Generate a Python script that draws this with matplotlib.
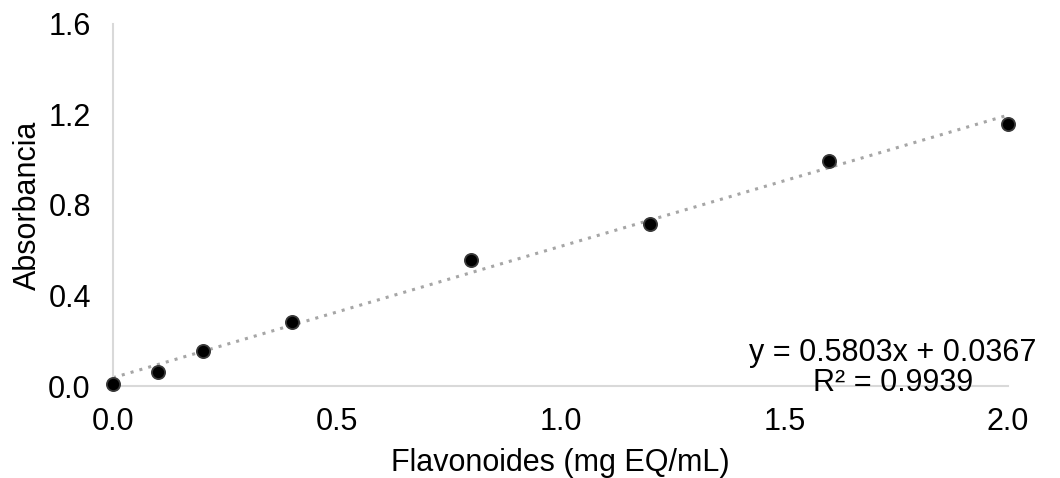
import numpy as np
import matplotlib.pyplot as plt

plt.rcParams['font.family'] = ['Liberation Sans', 'DejaVu Sans']

# calibration standards
conc = [0.0, 0.1, 0.2, 0.4, 0.8, 1.2, 1.6, 2.0]
absorb = [0.01, 0.06, 0.155, 0.285, 0.555, 0.715, 0.995, 1.16]

# linear fit reported for the curve
slope = 0.5803
intercept = 0.0367
r2 = 0.9939

fs = 22

fig = plt.figure(figsize=(10.6, 4.78), dpi=100)
ax = fig.add_axes([113 / 1060, 92 / 478, 895 / 1060, 362 / 478])

xfit = np.array([0.0, 2.0])
ax.plot(xfit, slope * xfit + intercept, ls=(0, (1, 2)), color='#a6a6a6', lw=2.2, zorder=2)
ax.plot(conc, absorb, 'o', ms=9.5, mfc='black', mec='#3a3a3a', mew=1.3, zorder=3, clip_on=False)

ax.set_xlim(0, 2.0)
ax.set_ylim(0, 1.6)
ax.set_xticks([0.0, 0.5, 1.0, 1.5, 2.0])
ax.set_yticks([0.0, 0.4, 0.8, 1.2, 1.6])
ax.xaxis.set_major_formatter(plt.FormatStrFormatter('%.1f'))
ax.yaxis.set_major_formatter(plt.FormatStrFormatter('%.1f'))
ax.tick_params(length=0, labelsize=fs)
ax.tick_params(axis='x', pad=15)
ax.tick_params(axis='y', pad=16)

for s in ['top', 'right']:
    ax.spines[s].set_visible(False)
for s in ['left', 'bottom']:
    ax.spines[s].set_color('#d9d9d9')
    ax.spines[s].set_linewidth(1.5)

ax.set_xlabel('Flavonoides (mg EQ/mL)', fontsize=fs, labelpad=8)
ax.set_ylabel('Absorbancia', fontsize=fs, labelpad=4)

ax.text(1.743, 0.08, 'y = %.4fx + %.4f\nR² = %.4f' % (slope, intercept, r2),
        ha='center', va='center', fontsize=fs, linespacing=1.0, zorder=4)

fig.savefig('out.png', dpi=100)
